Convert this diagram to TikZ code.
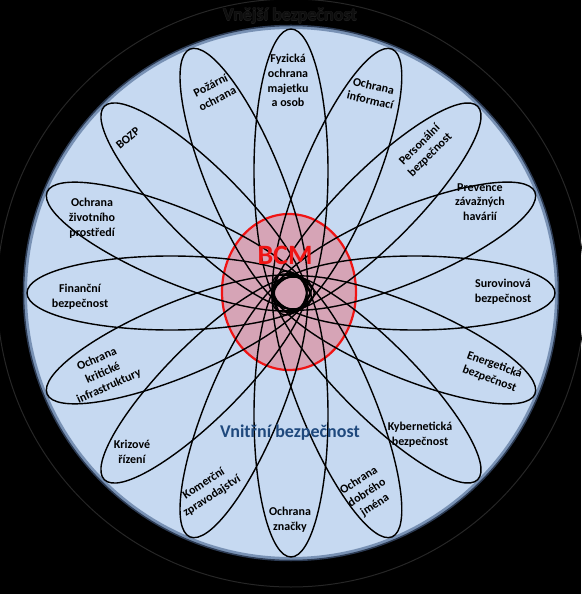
\documentclass[tikz,border=0pt]{standalone}
\usepackage{fontspec}
\setmainfont{Carlito}
\definecolor{diskblue}{RGB}{198,217,241}
\definecolor{rimlight}{RGB}{120,145,180}
\definecolor{rimdark}{RGB}{45,60,85}
\definecolor{ringgray}{RGB}{38,38,38}
\definecolor{pinkfill}{RGB}{214,164,182}
\definecolor{bcmred}{RGB}{240,20,20}
\definecolor{innerblue}{RGB}{31,73,125}
\definecolor{outl}{RGB}{30,30,30}
\definecolor{outfill}{RGB}{14,14,14}
\begin{document}
\begin{tikzpicture}[x=1pt,y=1pt,
  petal/.style={draw=black, line width=1.4pt},
  lbl/.style={font=\fontsize{12}{14.8}\selectfont\bfseries, align=center, text=black, inner sep=0pt},
  big/.style={font=\fontsize{18}{21}\selectfont\bfseries, inner sep=0pt}]
\useasboundingbox (-291,-301) rectangle (290,293);
\fill[black] (-291,-301) rectangle (290,293);
\draw[ringgray, line width=1pt] (0,0) circle (294);
% outer label with faint outline
\foreach \dx/\dy in {0.5/0,-0.5/0,0/0.5,0/-0.5}
  \node[big, text=outl] at (-1+\dx,277+\dy) {Vnější bezpečnost};
\node[big, text=outfill] (outer) at (-1,277) {Vnější bezpečnost};
% disk
\fill[diskblue] (0,0) circle (267);
\draw[rimlight, line width=3pt] (0,0) circle (265.5);
\draw[rimdark, line width=1.5pt] (0,0) circle (267.5);
% BCM core
\filldraw[fill=pinkfill, draw=bcmred, line width=2.2pt] (-2,1) ellipse [x radius=67, y radius=78];
% petals (slight hand-placed variation)
\foreach \a in {0,22.5,...,337.5}{
  \pgfmathsetmacro\cc{122+1.6*cos(3*\a)}
  \pgfmathsetmacro\rr{264-\cc}
  \draw[petal, rotate=\a] (\cc,0) ellipse [x radius=\rr, y radius=37];
}
% labels
\node[lbl] (fyz) at (-3,212.5) {Fyzická\\ochrana\\majetku\\a osob};
\node[lbl, rotate=27] (poz) at (-77,201) {Požární\\ochrana};
\node[lbl, rotate=-13] (inf) at (81,200) {Ochrana\\informací};
\node[lbl, rotate=45] (per) at (134,143) {Personální\\bezpečnost};
\node[lbl] (prev) at (189,91) {Prevence\\závažných\\havárií};
\node[lbl] (sur) at (212,1) {Surovinová\\bezpečnost};
\node[lbl, rotate=-20] (ene) at (201,-79) {Energetická\\bezpečnost};
\node[lbl] (kyb) at (129,-142) {Kybernetická\\bezpečnost};
\node[lbl, rotate=33] (dob) at (76,-200) {Ochrana\\dobrého\\jména};
\node[lbl] (zna) at (-1,-227) {Ochrana\\značky};
\node[lbl, rotate=33] (kom) at (-83,-197) {Komerční\\zpravodajství};
\node[lbl] (kri) at (-159,-159) {Krizové\\řízení};
\node[lbl, rotate=24] (kin) at (-188,-80) {Ochrana\\kritické\\infrastruktury};
\node[lbl] (fin) at (-211,-4) {Finanční\\bezpečnost};
\node[lbl] (zp) at (-199,75) {Ochrana\\životního\\prostředí};
\node[lbl, rotate=40] (bozp) at (-163,155) {BOZP};
% inner texts
\node[big, text=innerblue] (inner) at (-1,-140) {Vnitřní bezpečnost};
\node[font=\fontsize{28}{32}\selectfont\bfseries, text=bcmred, inner sep=0pt] (bcm) at (-6,38) {BCM};
\end{tikzpicture}
\end{document}
